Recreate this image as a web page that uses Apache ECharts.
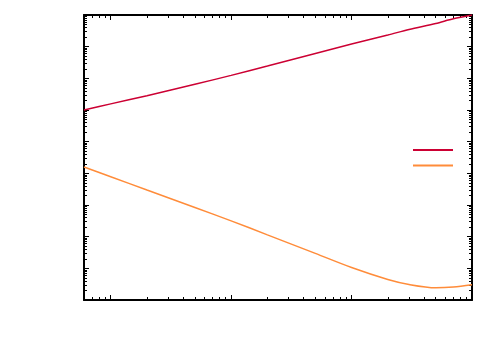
<!DOCTYPE html>
<html><head><meta charset="utf-8">
<script src="https://cdn.jsdelivr.net/npm/echarts@6/dist/echarts.min.js"></script>
<style>html,body{margin:0;padding:0;background:#fff}#c{width:500px;height:350px}</style>
</head><body><div id="c"></div>
<script>
const xValues = [0.6, 1, 2, 5, 10, 20, 50, 100, 200, 300, 500, 700, 1000];
const redValues = [1.0, 1.56, 2.83, 6.5, 12.4, 24.5, 61, 121, 233, 350, 540, 760, 1000];
const orangeValues = [1.58e-2, 7.83e-3, 2.98e-3, 8.36e-4, 3.16e-4, 1.14e-4, 2.96e-5, 1.06e-5, 4.45e-6, 3.09e-6, 2.43e-6, 2.57e-6, 3.05e-6];
const seriesNames = ['A', 'B'];
const xMajor = [1, 10, 100, 1000];
const xMinor = [0.7, 0.8, 0.9, 2,3,4,5,6,7,8,9, 20,30,40,50,60,70,80,90, 200,300,400,500,600,700,800,900];
const yMajor = [1e-6,1e-5,1e-4,1e-3,1e-2,1e-1,1,10,100,1000];
const yMinor = [];
for (let e = -6; e < 3; e++) for (let m = 2; m <= 9; m++) yMinor.push(+(m * Math.pow(10, e)).toPrecision(3));

const line = {show: true, lineStyle: {color: '#000', width: 2}};
function ax(type, pos, ticks, len, showLine, extra) {
  return Object.assign({
    type: 'log', logBase: 10, position: pos,
    axisLine: showLine ? line : {show: false},
    axisTick: {show: true, inside: true, length: len, lineStyle: {color: '#000', width: 1}, customValues: ticks},
    axisLabel: {show: false}, splitLine: {show: false}, minorTick: {show: false}
  }, extra);
}
const xr = {min: 0.6, max: 1000};
const yr = {min: 1e-6, max: 1e3};
const chart = echarts.init(document.getElementById('c'), null, {renderer: 'canvas'});
chart.setOption({
  animation: false,
  backgroundColor: '#fff',
  grid: {left: 84, right: 28, top: 15, bottom: 50},
  legend: {
    orient: 'vertical', left: 413, top: 149, padding: 0, itemWidth: 40, itemHeight: 2, itemGap: 13.5,
    icon: 'rect', formatter: () => '', textStyle: {fontSize: 1},
    data: seriesNames
  },
  xAxis: [
    ax('log', 'bottom', xMajor, 5, true, xr),
    ax('log', 'top', xMajor, 5, true, xr),
    ax('log', 'bottom', xMinor, 3, false, xr),
    ax('log', 'top', xMinor, 3, false, xr)
  ],
  yAxis: [
    ax('log', 'left', yMajor, 5, true, yr),
    ax('log', 'right', yMajor, 5, true, yr),
    ax('log', 'left', yMinor, 3, false, yr),
    ax('log', 'right', yMinor, 3, false, yr)
  ],
  series: [
    {name: seriesNames[0], type: 'line', smooth: 0.3, showSymbol: false, color: '#cc0033',
     lineStyle: {width: 1.5}, data: xValues.map((x, i) => [x, redValues[i]])},
    {name: seriesNames[1], type: 'line', smooth: 0.3, showSymbol: false, color: '#ff8c3a',
     lineStyle: {width: 1.5}, data: xValues.map((x, i) => [x, orangeValues[i]])}
  ]
});
</script></body></html>
